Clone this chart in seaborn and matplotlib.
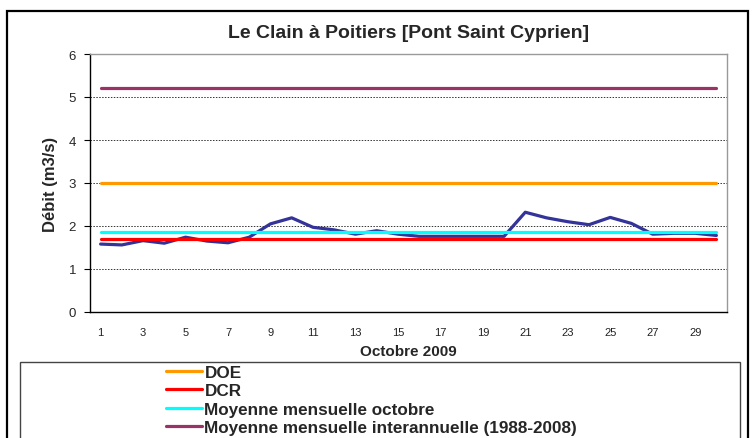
import numpy as np
import pandas as pd
import seaborn as sns
import matplotlib.pyplot as plt
from matplotlib.patches import Rectangle
from matplotlib.ticker import FixedLocator

# débits journaliers, octobre 2009
days = list(range(1, 31))
debit = [1.58, 1.56, 1.66, 1.60, 1.74, 1.65, 1.61, 1.74, 2.05, 2.19,
         1.97, 1.91, 1.81, 1.89, 1.81, 1.76, 1.76, 1.76, 1.76, 1.76,
         2.32, 2.19, 2.10, 2.03, 2.20, 2.06, 1.81, 1.83, 1.83, 1.78]

# valeurs de référence
ref_labels = ['DOE', 'DCR', 'Moyenne mensuelle octobre',
              'Moyenne mensuelle interannuelle (1988-2008)']
ref_values = [3.0, 1.7, 1.85, 5.2]
ref_colors = ['#FF9900', '#FF0000', '#00FFFF', '#993366']

sns.set_style('white')
plt.rcParams['font.family'] = ['Liberation Sans', 'DejaVu Sans']

fig = plt.figure(figsize=(7.55, 4.39), dpi=100)
ax = fig.add_axes([90 / 755, 1 - 313 / 439, 637 / 755, 258 / 439])

df = pd.DataFrame({'jour': days, 'debit': debit})
sns.lineplot(data=df, x='jour', y='debit', ax=ax, color='#333399', linewidth=2.3)

handles = []
for lab, val, col in zip(ref_labels, ref_values, ref_colors):
    d = pd.DataFrame({'jour': days, 'v': [val] * len(days)})
    sns.lineplot(data=d, x='jour', y='v', ax=ax, color=col, linewidth=2.3)
    handles.append(ax.lines[-1])

ax.set_xlim(0.5, 30.5)
ax.set_ylim(0, 6)
ax.xaxis.set_major_locator(FixedLocator(days[::2]))
ax.xaxis.set_minor_locator(FixedLocator(np.arange(0.5, 31, 1)))
ax.set_yticks(range(7))
ax.tick_params(axis='x', which='major', length=0, labelsize=8, pad=11, labelcolor='#222222')
ax.tick_params(axis='x', which='minor', length=4, direction='out', width=0.8, color='black')
ax.tick_params(axis='y', length=4, direction='out', width=0.8, color='black', labelsize=9.5, pad=6)
ax.tick_params(axis='both', bottom=True, left=True)

ax.yaxis.grid(True, linestyle=(0, (1.5, 1.5)), color='#333333', linewidth=0.7)
ax.set_axisbelow(True)
for s in ['top', 'right']:
    ax.spines[s].set_color('#999999')
    ax.spines[s].set_linewidth(1)
for s in ['left', 'bottom']:
    ax.spines[s].set_color('black')
    ax.spines[s].set_linewidth(1)

ax.set_title('Le Clain à Poitiers [Pont Saint Cyprien]', fontsize=14,
             fontweight='bold', pad=12)
ax.set_xlabel('Octobre 2009', fontsize=11, fontweight='bold', labelpad=5)
ax.set_ylabel('Débit (m3/s)', fontsize=12, fontweight='bold', labelpad=8)

# cadre extérieur
fig.patches.append(Rectangle((7 / 755, -0.1), 741 / 755, 1 - 12 / 439 + 0.1,
                             transform=fig.transFigure, fill=False,
                             edgecolor='black', linewidth=1.6))
# cadre de légende
fig.patches.append(Rectangle((20 / 755, -0.1), 720 / 755, 1 - 363 / 439 + 0.1,
                             transform=fig.transFigure, fill=False,
                             edgecolor='#444444', linewidth=1))

fig.legend(handles, ref_labels, loc='upper left',
           bbox_to_anchor=(166 / 755, 1 - 366 / 439), frameon=False,
           prop={'size': 12.3, 'weight': 'bold'}, handlelength=2.1,
           handletextpad=0.15, labelspacing=0.2, borderaxespad=0, borderpad=0)

fig.savefig('out.png', dpi=100)
